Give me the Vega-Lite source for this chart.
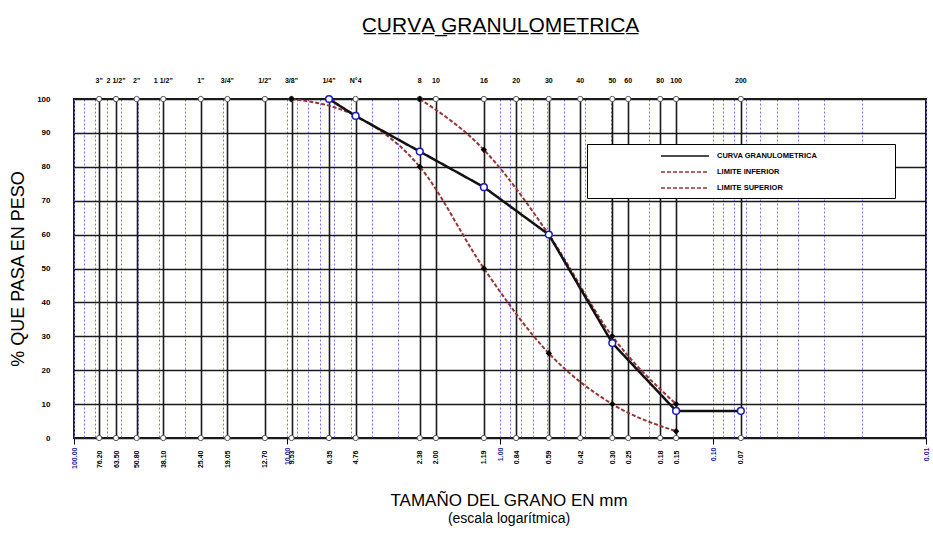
{
 "$schema": "https://vega.github.io/schema/vega-lite/v6.json",
 "width": 852,
 "height": 339,
 "autosize": {"type": "none"},
 "padding": {"left": 74, "top": 99, "right": 7, "bottom": 99},
 "background": "white",
 "config": {
  "view": {"stroke": "#1a1a1a", "strokeWidth": 2},
  "font": "Liberation Sans",
  "axis": {"labelFont": "Liberation Sans", "titleFont": "Liberation Sans", "labelColor": "black", "titleColor": "black"}
 },
 "title": {
  "text": "TAMAÑO DEL GRANO EN mm",
  "subtitle": "(escala logarítmica)",
  "orient": "bottom",
  "anchor": "middle",
  "frame": "group",
  "fontSize": 17,
  "fontWeight": "normal",
  "font": "Liberation Sans",
  "color": "black",
  "subtitleFont": "Liberation Sans",
  "subtitleFontSize": 14,
  "subtitleColor": "black",
  "subtitlePadding": 2,
  "offset": 25,
  "dx": 9
 },
 "datasets": {
  "sieves": [
   {"size": 76.2, "name": "3\""},
   {"size": 63.5, "name": "2 1/2\""},
   {"size": 50.8, "name": "2\""},
   {"size": 38.1, "name": "1 1/2\""},
   {"size": 25.4, "name": "1\""},
   {"size": 19.05, "name": "3/4\""},
   {"size": 12.7, "name": "1/2\""},
   {"size": 9.525, "name": "3/8\""},
   {"size": 6.35, "name": "1/4\""},
   {"size": 4.76, "name": "N°4"},
   {"size": 2.38, "name": "8"},
   {"size": 2.0, "name": "10"},
   {"size": 1.19, "name": "16"},
   {"size": 0.84, "name": "20"},
   {"size": 0.59, "name": "30"},
   {"size": 0.42, "name": "40"},
   {"size": 0.297, "name": "50"},
   {"size": 0.25, "name": "60"},
   {"size": 0.177, "name": "80"},
   {"size": 0.149, "name": "100"},
   {"size": 0.074, "name": "200"}
  ],
  "curves": [
   {"serie": "CURVA GRANULOMETRICA", "size": 6.35, "pct": 100},
   {"serie": "CURVA GRANULOMETRICA", "size": 4.76, "pct": 95},
   {"serie": "CURVA GRANULOMETRICA", "size": 2.38, "pct": 84.5},
   {"serie": "CURVA GRANULOMETRICA", "size": 1.19, "pct": 74},
   {"serie": "CURVA GRANULOMETRICA", "size": 0.59, "pct": 60},
   {"serie": "CURVA GRANULOMETRICA", "size": 0.297, "pct": 28},
   {"serie": "CURVA GRANULOMETRICA", "size": 0.149, "pct": 8},
   {"serie": "CURVA GRANULOMETRICA", "size": 0.074, "pct": 8},
   {"serie": "LIMITE INFERIOR", "size": 9.525, "pct": 100},
   {"serie": "LIMITE INFERIOR", "size": 4.76, "pct": 95},
   {"serie": "LIMITE INFERIOR", "size": 2.38, "pct": 80},
   {"serie": "LIMITE INFERIOR", "size": 1.19, "pct": 50},
   {"serie": "LIMITE INFERIOR", "size": 0.59, "pct": 25},
   {"serie": "LIMITE INFERIOR", "size": 0.297, "pct": 10},
   {"serie": "LIMITE INFERIOR", "size": 0.149, "pct": 2},
   {"serie": "LIMITE SUPERIOR", "size": 2.38, "pct": 100},
   {"serie": "LIMITE SUPERIOR", "size": 1.19, "pct": 85},
   {"serie": "LIMITE SUPERIOR", "size": 0.59, "pct": 60},
   {"serie": "LIMITE SUPERIOR", "size": 0.297, "pct": 30},
   {"serie": "LIMITE SUPERIOR", "size": 0.149, "pct": 10}
  ]
 },
 "layer": [
  {
   "data": {"name": "sieves"},
   "mark": {"type": "text", "fontSize": 7, "fontWeight": "bold", "font": "Liberation Sans", "dy": -18, "color": "black"},
   "encoding": {
    "x": {
     "field": "size", "type": "quantitative",
     "scale": {"type": "log", "domain": [0.01, 100], "reverse": true, "nice": false},
     "axis": {
      "orient": "bottom",
      "values": [0.01,0.02,0.03,0.04,0.05,0.06,0.07,0.08,0.09,0.1,0.2,0.3,0.4,0.5,0.6,0.7,0.8,0.9,1,2,3,4,5,6,7,8,9,10,20,30,40,50,60,70,80,90,100],
      "grid": true, "gridColor": "#7878ff", "gridDash": [2, 2], "gridWidth": 1,
      "labels": false, "ticks": false, "domain": false, "title": null
     }
    },
    "y": {"datum": 100, "type": "quantitative", "scale": {"domain": [0, 100], "nice": false}, "axis": null},
    "text": {"field": "name"}
   }
  },
  {
   "data": {"name": "sieves"},
   "mark": {"type": "point", "shape": "circle", "filled": true, "fill": "white", "stroke": "#555", "strokeWidth": 1, "size": 28, "opacity": 1},
   "encoding": {
    "x": {
     "field": "size", "type": "quantitative",
     "axis": {
      "orient": "bottom",
      "values": [76.2,63.5,50.8,38.1,25.4,19.05,12.7,9.525,6.35,4.76,2.38,2.0,1.19,0.84,0.59,0.42,0.297,0.25,0.177,0.149,0.074],
      "grid": true, "gridColor": "#1a1a1a", "gridWidth": 1.6,
      "ticks": false, "domain": false,
      "labelAngle": 270, "labelAlign": "right", "labelBaseline": "middle", "labelPadding": 12,
      "labelFontSize": 7, "labelFontWeight": "bold", "labelOverlap": false,
      "labelExpr": "format(datum.value, '.2f')", "title": null
     }
    },
    "y": {
     "datum": 100, "type": "quantitative",
     "axis": {
      "orient": "left",
      "values": [0,10,20,30,40,50,60,70,80,90,100],
      "grid": true, "gridColor": "#1a1a1a", "gridWidth": 1.6,
      "ticks": false, "domain": false,
      "labelFontSize": 8, "labelFontWeight": "bold", "labelPadding": 24,
      "title": "% QUE PASA EN PESO", "titleFontSize": 18, "titleFontWeight": "normal", "titlePadding": 9
     }
    }
   }
  },
  {
   "data": {"name": "sieves"},
   "mark": {"type": "point", "shape": "circle", "filled": true, "fill": "white", "stroke": "#555", "strokeWidth": 1, "size": 28, "opacity": 1},
   "encoding": {
    "x": {
     "field": "size", "type": "quantitative",
     "axis": {
      "orient": "bottom",
      "values": [0.01, 0.1, 1, 10, 100],
      "grid": false, "domain": false,
      "ticks": true, "tickColor": "black", "tickSize": 6,
      "labelAngle": 270, "labelAlign": "right", "labelBaseline": "middle", "labelPadding": 3,
      "labelFontSize": 7, "labelFontWeight": "bold", "labelColor": "#2020a0", "labelOverlap": false,
      "labelExpr": "format(datum.value, '.2f')", "title": null
     }
    },
    "y": {"datum": 0, "type": "quantitative", "axis": null}
   }
  },
  {
   "data": {"name": "curves"},
   "transform": [{"filter": "datum.serie != 'CURVA GRANULOMETRICA'"}],
   "mark": {"type": "line", "interpolate": "monotone", "strokeWidth": 2},
   "encoding": {
    "x": {
     "field": "size", "type": "quantitative",
     "axis": {"orient": "top", "labels": false, "ticks": false, "domain": false, "grid": false,
      "title": "C̲U̲R̲V̲A̲ ̲G̲R̲A̲N̲U̲L̲O̲M̲E̲T̲R̲I̲C̲A̲", "titleFontSize": 21, "titleFontWeight": "normal", "titlePadding": 64}
    },
    "y": {"field": "pct", "type": "quantitative", "axis": null},
    "color": {
     "field": "serie", "type": "nominal",
     "scale": {"domain": ["CURVA GRANULOMETRICA", "LIMITE INFERIOR", "LIMITE SUPERIOR"], "range": ["#111111", "#973535", "#973535"]},
     "legend": {
      "orient": "none", "legendX": 513, "legendY": 45,
      "title": " ", "titleOrient": "right", "titlePadding": 72,
      "strokeColor": "black", "fillColor": "white", "padding": 6,
      "labelFontSize": 7.5, "labelFontWeight": "bold", "labelFont": "Liberation Sans",
      "symbolType": "M-4.8,0H4.8", "symbolSize": 100, "symbolStrokeWidth": 1.5, "symbolOffset": 86,
      "rowPadding": 6, "labelOffset": 26
     }
    },
    "strokeDash": {
     "field": "serie", "type": "nominal",
     "scale": {"domain": ["CURVA GRANULOMETRICA", "LIMITE INFERIOR", "LIMITE SUPERIOR"], "range": [[1, 0], [4, 2], [4, 2]]},
     "legend": {
      "orient": "none", "legendX": 513, "legendY": 45,
      "title": " ", "titleOrient": "right", "titlePadding": 72,
      "strokeColor": "black", "fillColor": "white", "padding": 6,
      "labelFontSize": 7.5, "labelFontWeight": "bold", "labelFont": "Liberation Sans",
      "symbolType": "M-4.8,0H4.8", "symbolSize": 100, "symbolStrokeWidth": 1.5, "symbolOffset": 86,
      "rowPadding": 6, "labelOffset": 26
     }
    }
   }
  },
  {
   "data": {"name": "curves"},
   "transform": [{"filter": "datum.serie == 'CURVA GRANULOMETRICA'"}],
   "mark": {"type": "line", "strokeWidth": 2.5},
   "encoding": {
    "x": {"field": "size", "type": "quantitative", "axis": null},
    "y": {"field": "pct", "type": "quantitative", "axis": null},
    "color": {"field": "serie", "type": "nominal"},
    "strokeDash": {"field": "serie", "type": "nominal"}
   }
  },
  {
   "data": {"name": "curves"},
   "transform": [{"filter": "datum.serie != 'CURVA GRANULOMETRICA'"}],
   "mark": {"type": "point", "shape": "diamond", "filled": true, "color": "black", "size": 40, "opacity": 1},
   "encoding": {
    "x": {"field": "size", "type": "quantitative", "axis": null},
    "y": {"field": "pct", "type": "quantitative", "axis": null}
   }
  },
  {
   "data": {"name": "curves"},
   "transform": [{"filter": "datum.serie == 'CURVA GRANULOMETRICA'"}],
   "mark": {"type": "point", "shape": "circle", "filled": true, "fill": "white", "stroke": "#1a1ab4", "strokeWidth": 1.5, "size": 45, "opacity": 1},
   "encoding": {
    "x": {"field": "size", "type": "quantitative", "axis": null},
    "y": {"field": "pct", "type": "quantitative", "axis": null}
   }
  }
 ],
 "resolve": {"axis": {"x": "independent", "y": "independent"}}
}
